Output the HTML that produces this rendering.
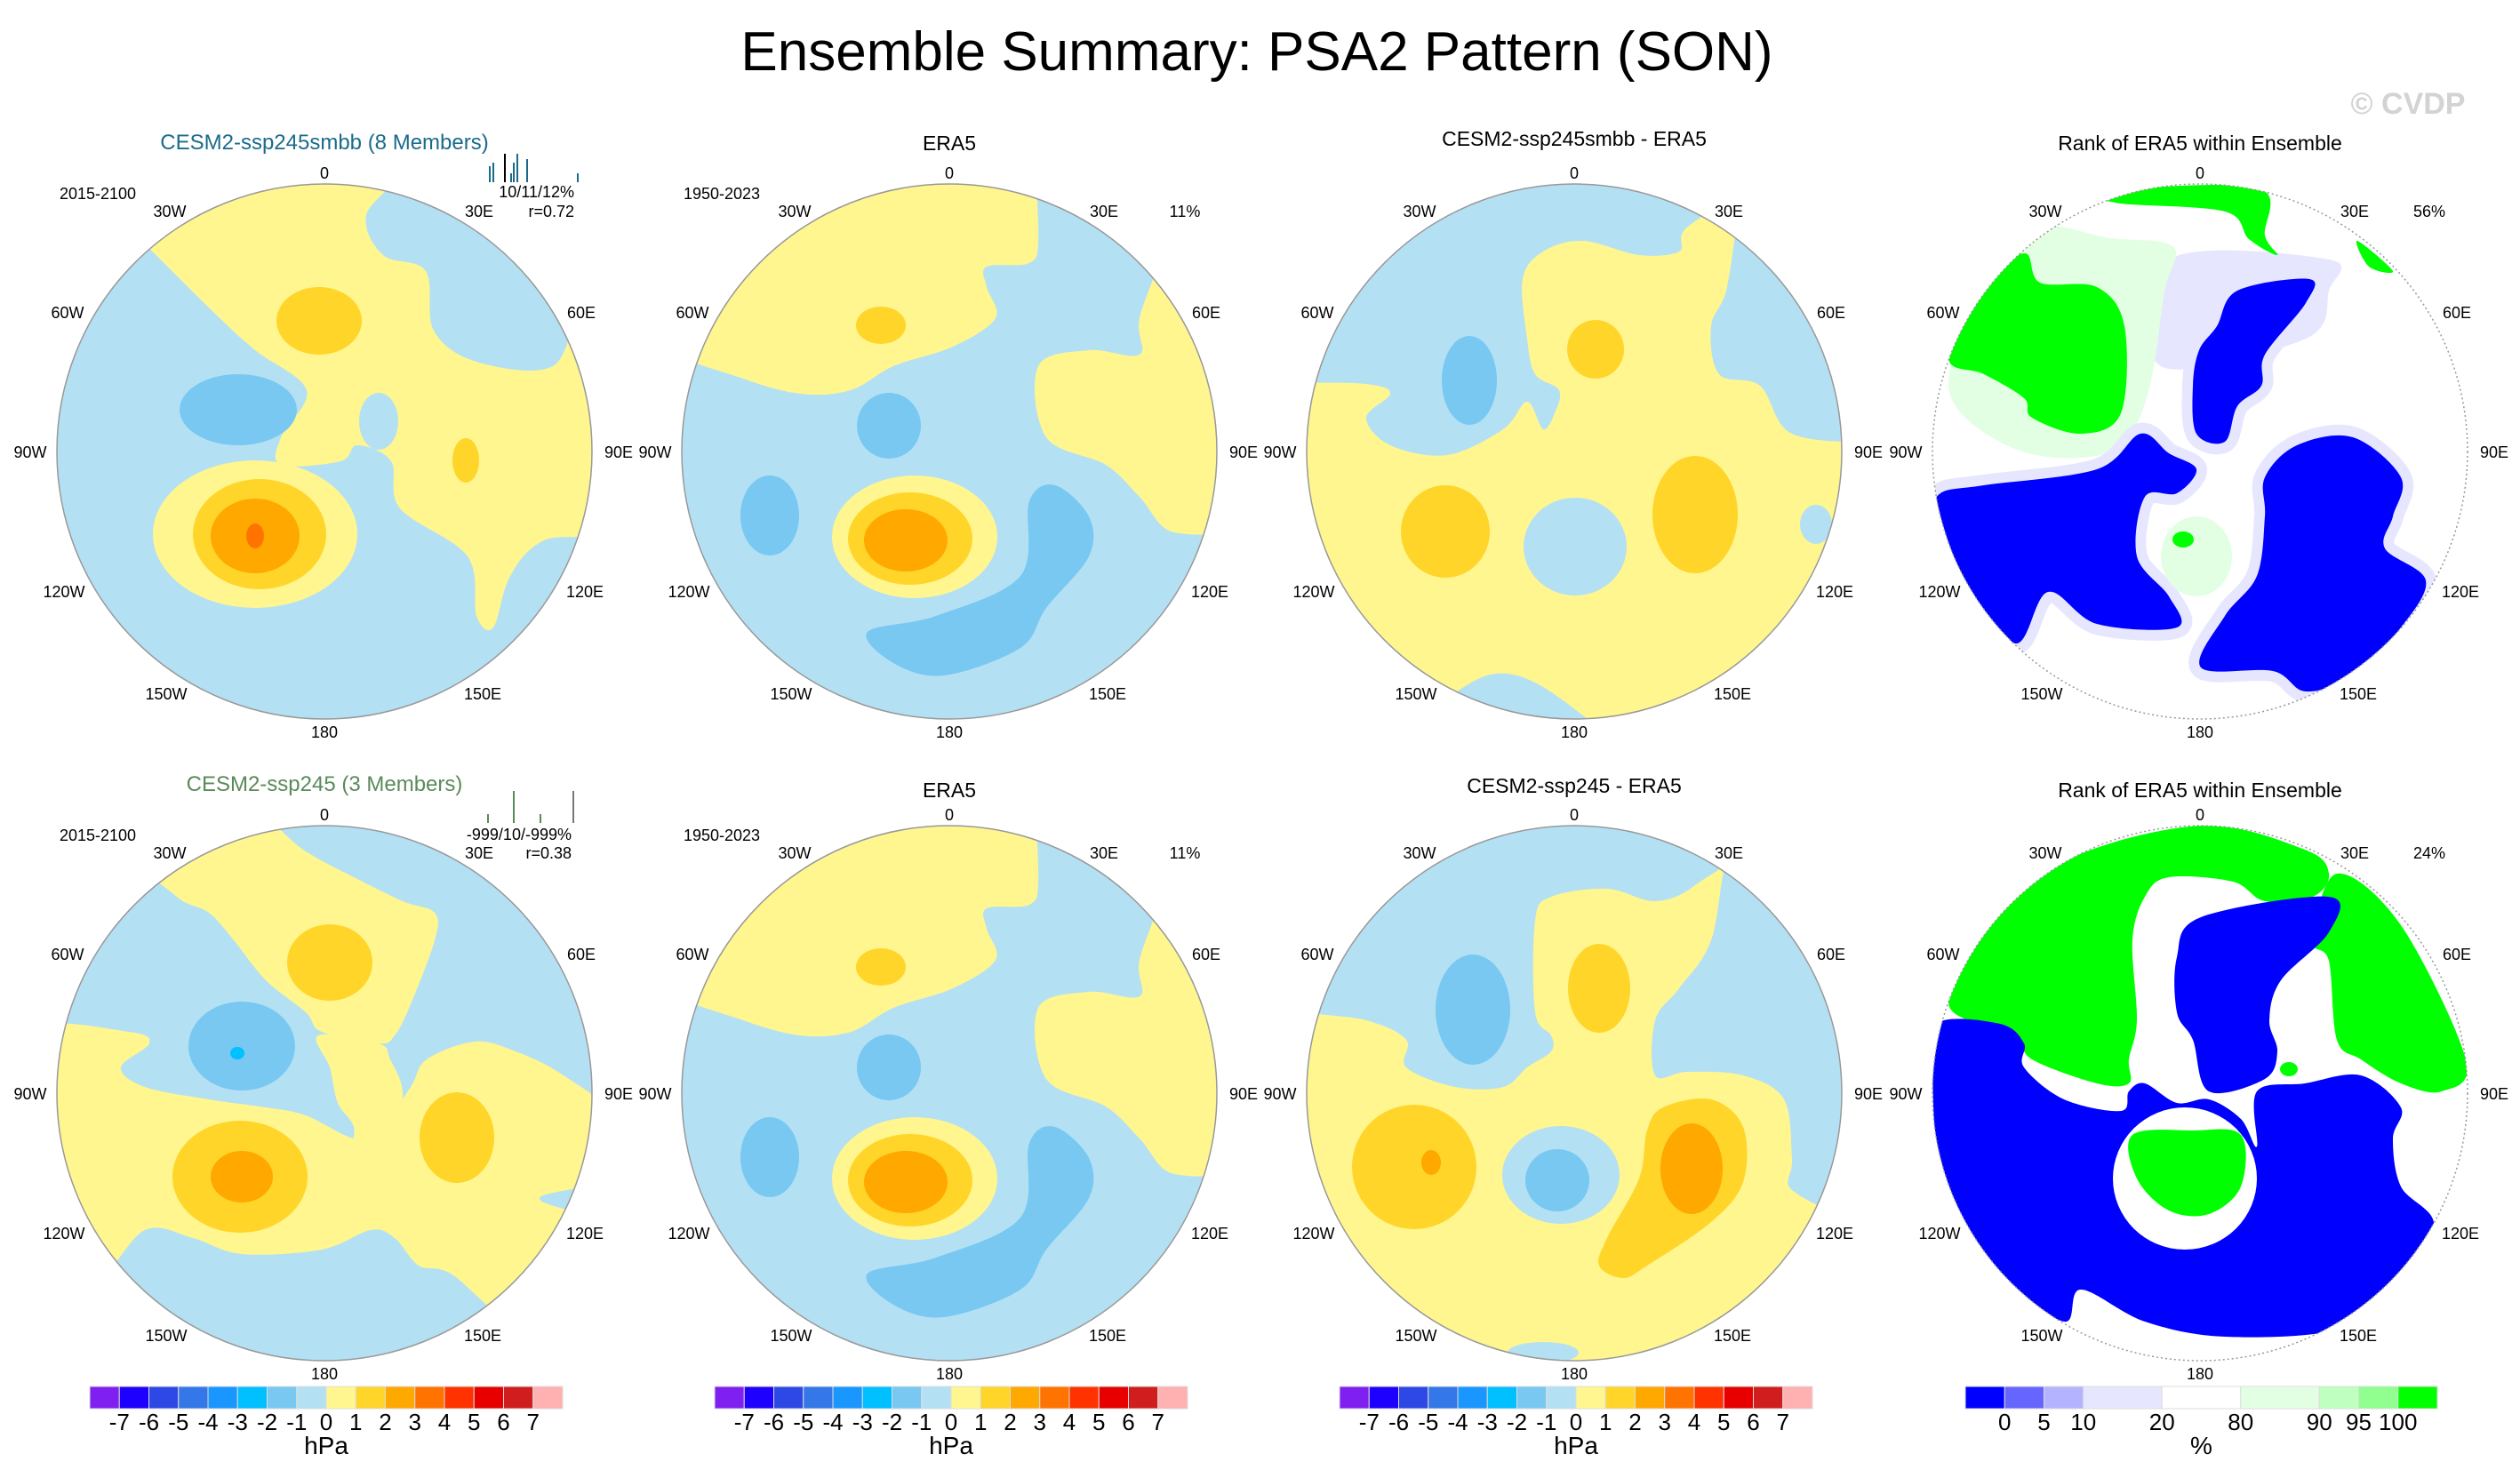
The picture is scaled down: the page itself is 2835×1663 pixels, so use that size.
<!DOCTYPE html>
<html><head><meta charset="utf-8"><title>Ensemble Summary: PSA2 Pattern (SON)</title>
<style>
html,body{margin:0;padding:0;background:#fff;}
svg{display:block;font-family:"Liberation Sans",Arial,sans-serif;}
</style></head>
<body>
<svg id="fig" width="2835" height="1663" viewBox="0 0 2835 1663" xmlns="http://www.w3.org/2000/svg">
<rect x="0" y="0" width="2835" height="1663" fill="#fff"/>
<text x="1414" y="79" font-size="62" text-anchor="middle" fill="#000">Ensemble Summary: PSA2 Pattern (SON)</text>
<text x="2709" y="128" font-size="34" font-weight="bold" text-anchor="middle" fill="#d3d3d3">© CVDP</text>
<g id="panels"></g>
<g id="bars"></g>
</svg>
<script>
// ---------- data ----------
const colCenters = [365, 1068, 1771, 2475];
const rowCenters = [508, 1230];
const radius = 301;
const contourColors = {"-3":"#00c0ff","-2":"#78c8f2","-1":"#b4e0f4","0":"#fff68f","1":"#ffd52a","2":"#ffa800","3":"#ff7400"};
const rankColors = {"B":"#0000ff","L":"#e6e6ff","g":"#e3ffe3","G":"#00ff00","W":"#ffffff"};
const lonLabels = ["0","30E","60E","90E","120E","150E","180","150W","120W","90W","60W","30W"];
const hpaColors = ["#8020f0","#1e00ff","#2e48e6","#3477e8","#1a96ff","#00c0ff","#78c8f2","#b4e0f4","#fff68f","#ffd52a","#ffa800","#ff7400","#ff3200","#e80000","#d01e1e","#ffb0b0"];
const hpaTicks = ["-7","-6","-5","-4","-3","-2","-1","0","1","2","3","4","5","6","7"];
const rankBoxColors = ["#0000ff","#6666ff","#b3b3ff","#e6e6ff","#ffffff","#e3ffe3","#bfffbf","#90ff90","#00ff00"];
const rankTicks = ["0","5","10","20","80","90","95","100"];

const p1 = [
 ["p","0",[-197,-230,-78,-292,75,-292,47,-266,66,-221,114,-203,123,-136,171,-101,257,-96,267,-150,302,-43,295,73,247,100,209,140,190,198,171,185,161,118,85,64,75,11,37,-7,18,11,-49,15,-49,-16,-20,-69,-78,-114,-126,-158,-193,-221]],
 ["e","-1",61,-34,22,32],
 ["e","0",-78,93,115,83],
 ["e","1",-73,93,75,62],
 ["e","2",-78,95,50,42],
 ["e","3",-78,95,10,14],
 ["e","1",-6,-147,48,38],
 ["e","1",159,10,15,25],
 ["e","-2",-97,-47,66,40]
];
const pEra = [
 ["p","0",[-283,-105,-274,-158,-197,-230,-111,-279,71,-295,80,-274,100,-239,90,-212,42,-208,42,-185,52,-150,4,-118,-63,-96,-111,-69,-168,-65,-235,-83]],
 ["p","0",[186,-230,224,-199,272,-158,302,-60,291,64,253,91,214,51,176,15,109,-16,100,-96,157,-114,214,-109,214,-150,205,-199,186,-212]],
 ["e","1",-77,-142,28,21],
 ["e","0",-39,96,93,69],
 ["e","1",-44,98,70,52],
 ["e","2",-49,100,47,35],
 ["e","-2",-202,72,33,45],
 ["e","-2",-68,-29,36,37],
 ["p","-2",[-92,203,-15,185,80,140,90,56,119,38,157,73,157,118,109,176,80,221,-6,252,-63,238]]
];
const p3 = [
 ["p","-1",[-297,-74,-234,-76,-207,-65,-234,-38,-207,-7,-143,4,-80,-25,-53,-56,-35,-25,-22,-43,-17,-69,-44,-87,-53,-127,-58,-194,-35,-225,10,-237,73,-221,118,-225,123,-248,145,-261,28,-301,-170,-257,-288,-105]],
 ["p","-1",[145,-261,163,-252,172,-185,154,-141,163,-87,209,-74,245,-20,281,-11,301,-38,281,-150,209,-225]],
 ["e","-1",272,82,18,22],
 ["e","-1",1,107,58,55],
 ["p","-1",[-134,261,-98,252,-35,265,37,292,-53,299]],
 ["e","1",24,-115,32,33],
 ["e","1",-145,90,50,52],
 ["e","1",136,71,48,66],
 ["e","-2",-118,-80,31,50]
];
const p4 = [
 ["p","L",[-35,-216,145,-216,145,-181,119,-127,-44,-96]],
 ["p","g",[-260,-150,-200,-250,-100,-240,-30,-230,-40,-180,-60,-60,-100,0,-200,0,-280,-60]],
 ["p","G",[-283,-105,-252,-185,-198,-223,-180,-190,-116,-185,-85,-141,-89,-43,-134,-20,-189,-38,-198,-60,-243,-87]],
 ["p","G",[-107,-288,-62,-297,69,-295,73,-243,87,-221,55,-239,28,-270,-89,-279]],
 ["p","G",[177,-237,217,-203,190,-208]],
 ["s","B",[42,-181,123,-194,119,-167,73,-109,69,-74,42,-51,28,-11,-4,-20,-8,-74,-1,-114,19,-141]],
 ["s","B",[-292,47,-243,38,-116,20,-67,-20,-35,2,-4,20,-26,47,-62,51,-71,118,-35,163,-26,198,-116,194,-171,158,-207,216,-261,154,-292,73]],
 ["s","B",[73,29,109,-7,172,-16,226,29,217,73,208,109,254,145,226,198,172,252,119,270,82,247,1,243,28,185,64,140,73,73]],
 ["e","g",-4,118,40,45],
 ["e","G",-19,99,12,9]
];
const p5 = [
 ["p","0",[-179,-238,-84,-276,-21,-272,33,-243,88,-216,124,-203,124,-172,97,-100,79,-65,61,-56,-3,-69,-21,-91,-66,-127,-102,-172,-130,-203,-166,-221]],
 ["p","0",[-7,-65,61,-56,74,-38,88,-2,79,42,33,74,33,38,15,11,6,-29]],
 ["p","0",[-302,20,-274,-60,-220,-69,-197,-56,-229,-29,-202,-7,-130,7,-66,16,-21,25,33,51,61,42,97,-7,115,-38,169,-58,215,-47,269,-20,283,29,269,78,242,118,269,127,260,163,197,230,142,203,106,194,79,163,52,154,-3,176,-93,181,-148,163,-202,154,-229,185,-283,118]],
 ["e","1",6,-147,48,43],
 ["e","1",-95,94,76,63],
 ["e","1",149,50,42,51],
 ["e","2",-93,94,35,29],
 ["e","-2",-93,-53,60,50],
 ["e","-3",-98,-45,8,7]
];
const p7 = [
 ["p","-1",[-288,-87,-234,-82,-189,-60,-189,-29,-134,-7,-80,-7,-53,-29,-26,-47,-26,-65,-44,-91,-44,-194,-26,-221,37,-230,91,-216,136,-234,154,-243,28,-299,-170,-252,-279,-127]],
 ["p","-1",[154,-243,154,-172,118,-118,91,-82,91,-20,127,-24,190,-20,236,7,245,74,245,109,281,114,301,7,281,-127,217,-207]],
 ["e","-1",-15,92,66,55],
 ["e","-1",-35,292,40,12],
 ["e","1",28,-118,35,50],
 ["e","1",-180,83,70,70],
 ["p","1",[100,16,154,7,190,38,190,100,154,145,82,194,55,208,28,194,37,163,73,96,82,42]],
 ["e","2",132,85,35,51],
 ["e","2",-161,78,11,14],
 ["e","-2",-114,-94,42,62],
 ["e","-2",-19,98,36,35]
];
const p8 = [
 ["p","G",[-283,-105,-243,-181,-153,-261,1,-301,118,-274,145,-247,127,-221,73,-216,37,-238,-35,-243,-62,-221,-76,-172,-71,-82,-80,-38,-80,-11,-116,-11,-189,-38,-207,-65,-252,-78]],
 ["p","G",[154,-247,226,-189,299,-38,272,-2,226,-11,181,-38,154,-60,145,-149,127,-172]],
 ["p","B",[-297,-78,-225,-78,-198,-56,-198,-29,-153,7,-89,20,-80,-2,-62,-11,-26,11,10,7,46,29,64,60,64,-2,118,-11,181,-20,226,16,217,51,226,105,263,150,208,221,154,266,28,274,-62,257,-134,221,-153,257,-225,203,-288,96,-301,-15]],
 ["e","W",-17,96,81,80],
 ["p","G",[-76,47,-8,42,46,47,46,105,10,136,-35,132,-71,96]],
 ["e","G",100,-27,10,8],
 ["p","B",[1,-198,145,-221,145,-181,91,-127,78,-82,87,-47,73,-16,10,-2,-8,-60,-26,-91,-26,-153]]
];
const panelShapes = [p1,pEra,p3,p4,p5,pEra,p7,p8];
const panelKinds = ["c","c","c","r","c","c","c","r"];

// ---------- helpers ----------
const NS = "http://www.w3.org/2000/svg";
const fig = document.getElementById("fig");
const panelsG = document.getElementById("panels");
const barsG = document.getElementById("bars");
function mk(tag, attrs, parent){const e=document.createElementNS(NS,tag);for(const k in attrs)e.setAttribute(k,attrs[k]);parent.appendChild(e);return e;}
function txt(parent,x,y,s,size,anchor,fill,name){const t=mk("text",{x:x,y:y,"font-size":size,"text-anchor":anchor||"middle",fill:fill||"#000"},parent);t.textContent=s;


return t;}
function smoothPath(pts,cx,cy,push){
  const n=pts.length/2, P=[];
  for(let i=0;i<n;i++){let x=pts[2*i],y=pts[2*i+1];const d=Math.hypot(x,y);
    if(push && d>0.93*radius){const f=1.12*radius/d;x*=f;y*=f;}
    P.push([cx+x,cy+y]);}
  let d="M"+P[0][0].toFixed(1)+","+P[0][1].toFixed(1);
  for(let i=0;i<n;i++){const p0=P[(i-1+n)%n],p1=P[i],p2=P[(i+1)%n],p3=P[(i+2)%n];
    const c1x=p1[0]+(p2[0]-p0[0])/6,c1y=p1[1]+(p2[1]-p0[1])/6,c2x=p2[0]-(p3[0]-p1[0])/6,c2y=p2[1]-(p3[1]-p1[1])/6;
    d+=" C"+c1x.toFixed(1)+","+c1y.toFixed(1)+" "+c2x.toFixed(1)+","+c2y.toFixed(1)+" "+p2[0].toFixed(1)+","+p2[1].toFixed(1);}
  return d+"Z";
}

// ---------- panels ----------
for(let i=0;i<8;i++){
  const col=i%4,row=Math.floor(i/4),cx=colCenters[col],cy=rowCenters[row],kind=panelKinds[i];
  const push=(kind==="c");
  const g=mk("g",{},panelsG);
  
  
  const cid="clip"+i;
  const cp=mk("clipPath",{id:cid},g);mk("circle",{cx:cx,cy:cy,r:radius},cp);
  const inner=mk("g",{"clip-path":"url(#"+cid+")"},g);
  mk("rect",{x:cx-radius,y:cy-radius,width:2*radius,height:2*radius,fill:kind==="c"?(i===2||i===6?contourColors["0"]:contourColors["-1"]):"#fff"},inner);
  const cmap=kind==="c"?contourColors:rankColors;
  for(const s of panelShapes[i]){
    let el;
    if(s[0]==="e"){el=mk("ellipse",{cx:cx+s[2],cy:cy+s[3],rx:s[4],ry:s[5],fill:cmap[s[1]]},inner);}
    else if(s[0]==="s"){mk("path",{d:smoothPath(s[2],cx,cy,push),fill:rankColors.L,stroke:rankColors.L,"stroke-width":24,"stroke-linejoin":"round"},inner);
      el=mk("path",{d:smoothPath(s[2],cx,cy,push),fill:cmap[s[1]]},inner);}
    else {el=mk("path",{d:smoothPath(s[2],cx,cy,push),fill:cmap[s[1]]},inner);}
    
    
  }
  const ring=mk("circle",{cx:cx,cy:cy,r:radius,fill:"none",stroke:"#999","stroke-width":1.5,"stroke-dasharray":kind==="r"?"2,3":"none"},g);
  
  
  const lx=[0,174,289,331,293,178,0,-178,-293,-331,-289,-174];
  const ly=[-314,-271,-157,0,157,272,315,272,157,0,-157,-271];
  for(let k=0;k<12;k++){
    txt(g,cx+lx[k],cy+ly[k]+7,lonLabels[k],18,"middle","#000",'longitude-label');
  }
}

const titles=[["CESM2-ssp245smbb (8 Members)",365,168,"#1a6b8a",24],["ERA5",1068,169,"#000",23],["CESM2-ssp245smbb - ERA5",1771,164,"#000",23],["Rank of ERA5 within Ensemble",2475,169,"#000",23],
 ["CESM2-ssp245 (3 Members)",365,890,"#5a8a5a",24],["ERA5",1068,897,"#000",23],["CESM2-ssp245 - ERA5",1771,892,"#000",23],["Rank of ERA5 within Ensemble",2475,897,"#000",23]];
titles.forEach(t=>txt(fig,t[1],t[2],t[0],t[4],"middle",t[3],'panel-title'));
txt(fig,110,224,"2015-2100",18,"middle","#000",'period-label');
txt(fig,812,224,"1950-2023",18,"middle","#000",'period-label');
txt(fig,110,946,"2015-2100",18,"middle","#000",'period-label');
txt(fig,812,946,"1950-2023",18,"middle","#000",'period-label');
txt(fig,646,222,"10/11/12%",18,"end","#000",'pattern-percent');
txt(fig,646,244,"r=0.72",18,"end","#000",'pattern-correlation');
txt(fig,643,945,"-999/10/-999%",18,"end","#000",'pattern-percent');
txt(fig,643,966,"r=0.38",18,"end","#000",'pattern-correlation');
txt(fig,1333,244,"11%",18,"middle","#000",'pattern-percent');
txt(fig,1333,966,"11%",18,"middle","#000",'pattern-percent');
txt(fig,2733,244,"56%",18,"middle","#000",'rank-percent');
txt(fig,2733,966,"24%",18,"middle","#000",'rank-percent');
const tickRows=[[[551,"#1a6b8a",18],[555,"#1a6b8a",22],[568,"#000",32],[575,"#1a6b8a",10],[578,"#1a6b8a",22],[582,"#1a6b8a",32],[593,"#1a6b8a",26],[650,"#1a6b8a",10]],
 [[549,"#5a8a5a",10],[578,"#5a8a5a",36],[608,"#5a8a5a",10],[645,"#777",36]]];
tickRows.forEach((tr,ri)=>{const base=ri===0?205:926;tr.forEach(t=>{const l=mk("line",{x1:t[0],x2:t[0],y1:base-t[2],y2:base,stroke:t[1],"stroke-width":2},fig);
  
  });});

// ---------- colorbars ----------
const barY=1560, barH=25;
[101,804,1507].forEach((x0,bi)=>{
  const w=(633-101)/hpaColors.length;
  const g=mk("g",{},barsG);
  
  
  hpaColors.forEach((c,k)=>{const r=mk("rect",{x:x0+k*w,y:barY,width:w,height:barH,fill:c,stroke:"#ddd","stroke-width":1},g);
    
    });
  hpaTicks.forEach((t,k)=>txt(g,x0+(k+1)*w,1609,t,26,"middle","#000",'colorbar-tick-label'));
  txt(g,x0+8*w,1636,"hPa",28,"middle","#000",'colorbar-unit');
});
(function(){
  const x0=2211,unit=(2742-2211)/12;
  const g=mk("g",{},barsG);
  
  
  const edges=[0,1,2,3,5,7,9,10,11,12];
  rankBoxColors.forEach((c,k)=>{const r=mk("rect",{x:x0+edges[k]*unit,y:barY,width:(edges[k+1]-edges[k])*unit,height:barH,fill:c,stroke:"#ddd","stroke-width":1},g);
    
    });
  rankTicks.forEach((t,k)=>txt(g,x0+edges[k+1]*unit,1609,t,26,"middle","#000",'colorbar-tick-label'));
  txt(g,x0+6*unit,1636,"%",28,"middle","#000",'colorbar-unit');
})();
</script>
</body></html>
